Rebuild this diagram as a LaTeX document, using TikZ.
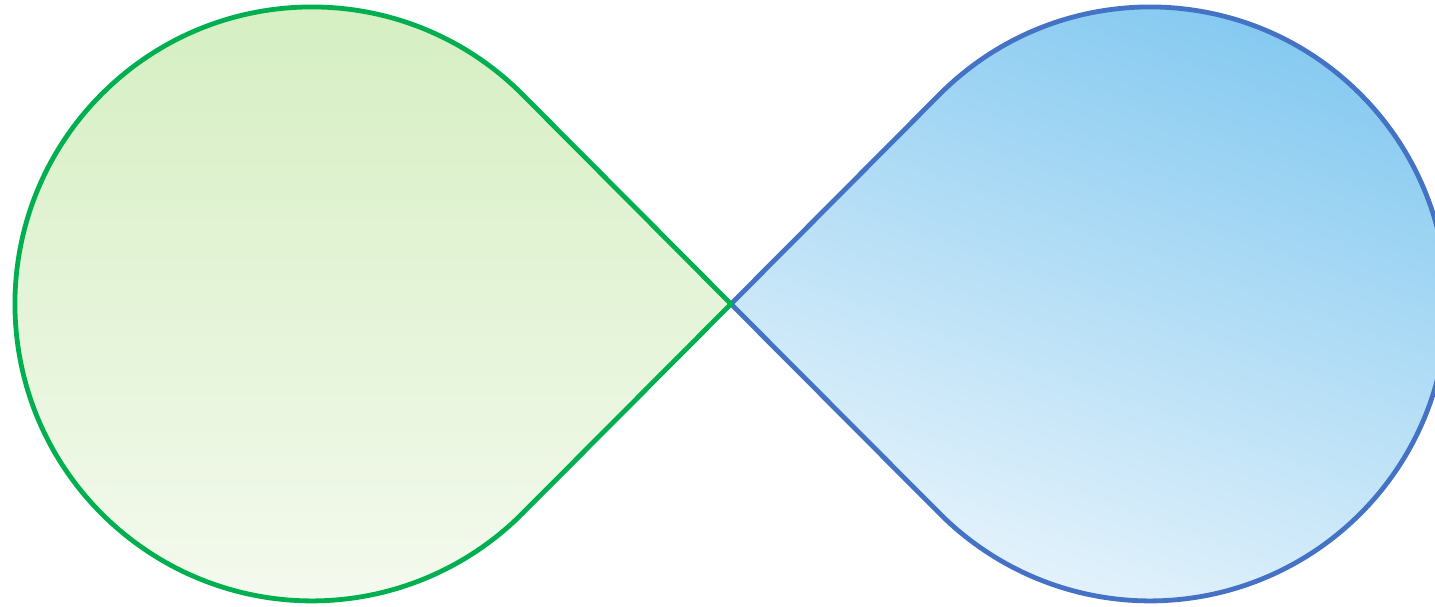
\documentclass[tikz,border=0pt]{standalone}
\definecolor{gstroke}{HTML}{00B050}
\definecolor{bstroke}{HTML}{4472C4}
\definecolor{gtop}{HTML}{D4EEC0}
\definecolor{gbot}{HTML}{F5FAEF}
\definecolor{btop}{HTML}{82C8F0}
\definecolor{bbot}{HTML}{EAF5FC}
\tikzset{
  lobe/.style={line width=4.8pt, line join=miter, miter limit=10},
}
\begin{document}
\begin{tikzpicture}[x=1pt,y=1pt]
\useasboundingbox (0,0) rectangle (1435,606);
\clip (0,0) rectangle (1435,606);
\coordinate (tip) at (731,302);
% right lobe (blue)
\path[lobe, draw=bstroke, top color=btop, bottom color=bbot, shading angle=-20]
  (tip) -- (939.6,511.6) arc[start angle=135.13, end angle=-135.13, radius=297] -- cycle;
% left lobe (green)
\path[lobe, draw=gstroke, top color=gtop, bottom color=gbot]
  (tip) -- (522.4,511.6) arc[start angle=44.87, end angle=315.13, radius=297] -- cycle;
\end{tikzpicture}
\end{document}
